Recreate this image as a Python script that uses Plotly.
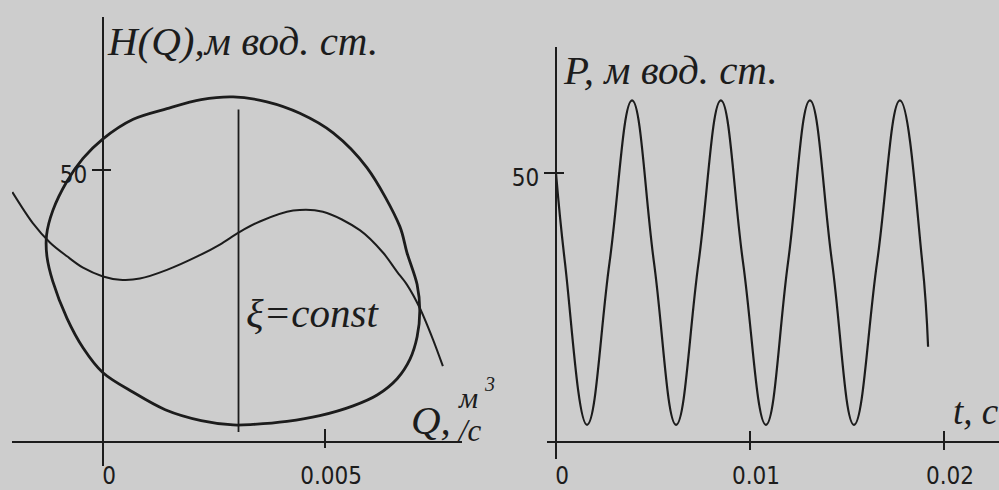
import plotly.graph_objects as go

# ---- Left panel: H(Q) loop, pump characteristic and the xi = const line ----
loop_q = [0.0, 0.00068, 0.00144, 0.00221, 0.00293, 0.00369, 0.00443, 0.00518,
          0.00594, 0.00668, 0.00684, 0.00707, 0.00713, 0.00707, 0.00691,
          0.00662, 0.00617, 0.00563, 0.00488, 0.00414, 0.00338, 0.00293,
          0.00221, 0.00140, 0.00068, 0.0, -0.00045, -0.00081, -0.00113,
          -0.00126, -0.00127, -0.00113, -0.00081, -0.00045, 0.0]
loop_h = [55.7, 59.3, 61.25, 62.9, 63.4, 62.5, 60.4, 56.8,
          50.4, 39.6, 34.8, 28.9, 24.1, 19.3, 15.2,
          11.6, 8.6, 6.6, 4.8, 3.75, 3.2, 3.1,
          3.9, 5.9, 9.1, 12.7, 17.3, 22.7, 29.5,
          34.0, 38.0, 42.5, 47.9, 52.1, 55.7]

pump_q = [-0.00204, -0.00158, -0.00119, -0.00081, -0.00045, 0.0, 0.00038,
          0.00083, 0.00144, 0.00218, 0.00263, 0.00308, 0.00353, 0.00428,
          0.00495, 0.00578, 0.0063, 0.00662, 0.00684, 0.00713, 0.00743,
          0.00765]
pump_h = [45.9, 40.2, 36.6, 34.1, 32.0, 30.4, 29.8,
          30.0, 31.6, 34.3, 36.25, 38.6, 40.5, 42.5,
          42.3, 38.9, 34.8, 31.25, 28.9, 24.6, 18.75,
          13.9]

xi_q = [0.00305, 0.00305]
xi_h = [1.8, 61.1]

q_ticks = [0.0, 0.005]
q_ticktext = ["0", "0.005"]
h_ticks = [50]

# ---- Right panel: pressure oscillation P(t) ----
t_vals = [0.0, 0.00046, 0.0016, 0.00276, 0.00392, 0.00505, 0.00619, 0.00735,
          0.0085, 0.00964, 0.01082, 0.01196, 0.01309, 0.01423, 0.01536,
          0.01655, 0.01773, 0.01888, 0.01918]
p_vals = [50.0, 33.4, 3.2, 33.4, 63.5, 33.4, 3.2, 33.4,
          63.5, 33.4, 3.2, 33.4, 63.5, 33.4, 3.2,
          33.4, 63.5, 33.4, 17.7]

t_ticks = [0.0, 0.01, 0.02]
t_ticktext = ["0", "0.01", "0.02"]
p_ticks = [50]

W, H = 999, 490
INK = "#1c1c1c"
BG = "#cdcdcd"


def fx(px):
    return px / W


def fy(py):
    return 1 - py / H


fig = go.Figure()
fig.add_trace(go.Scatter(x=loop_q, y=loop_h, mode="lines", xaxis="x", yaxis="y",
                         line=dict(color=INK, width=2.8, shape="spline", smoothing=0.9)))
fig.add_trace(go.Scatter(x=pump_q, y=pump_h, mode="lines", xaxis="x", yaxis="y",
                         line=dict(color=INK, width=2.0, shape="spline", smoothing=0.9)))
fig.add_trace(go.Scatter(x=xi_q, y=xi_h, mode="lines", xaxis="x", yaxis="y",
                         line=dict(color=INK, width=1.8)))
fig.add_trace(go.Scatter(x=t_vals, y=p_vals, mode="lines", xaxis="x2", yaxis="y2",
                         line=dict(color=INK, width=2.2, shape="spline", smoothing=1.2)))

tick_font = dict(family="DejaVu Sans Condensed, Liberation Sans Narrow, Liberation Sans",
                 size=24, color=INK)
label_font = dict(family="Liberation Serif", size=41, color=INK, style="italic")

# Left panel axes: 0.005 m3/s = 222 px, 50 m = 280 px
common = dict(showgrid=False, zeroline=False, showline=True, linecolor=INK,
              linewidth=2, tickcolor=INK, tickfont=tick_font, tickwidth=2,
              fixedrange=True)
fig.update_layout(
    width=W, height=H,
    margin=dict(l=0, r=0, t=0, b=0),
    paper_bgcolor=BG, plot_bgcolor=BG,
    showlegend=False,
    xaxis=dict(domain=[fx(12), fx(462)], range=[-0.002048, 0.00808],
               anchor="free", position=fy(455),
               tickmode="array", tickvals=q_ticks, ticktext=q_ticktext,
               ticks="outside", ticklen=5,
               minor=dict(tickmode="array", tickvals=q_ticks, ticks="inside",
                          ticklen=12, tickcolor=INK, tickwidth=2),
               ticklabelshift=6, ticklabelstandoff=7, **common),
    yaxis=dict(domain=[fy(480), fy(18)], range=[-4.5, 78.0],
               anchor="free", position=fx(103),
               tickmode="array", tickvals=h_ticks, ticktext=["50"],
               ticks="outside", ticklen=10,
               minor=dict(tickmode="array", tickvals=h_ticks, ticks="inside",
                          ticklen=7, tickcolor=INK, tickwidth=2),
               ticklabelshift=5, **common),
    xaxis2=dict(domain=[fx(547), 1.0], range=[-0.000464, 0.022835],
                anchor="free", position=fy(455),
                tickmode="array", tickvals=t_ticks, ticktext=t_ticktext,
                ticks="outside", ticklen=7,
                minor=dict(tickmode="array", tickvals=t_ticks, ticks="inside",
                           ticklen=10, tickcolor=INK, tickwidth=2),
                ticklabelshift=6, ticklabelstandoff=5, **common),
    yaxis2=dict(domain=[fy(472), fy(48)], range=[-3.07, 73.5],
                anchor="free", position=fx(556),
                tickmode="array", tickvals=p_ticks, ticktext=["50"],
                ticks="outside", ticklen=11,
                minor=dict(tickmode="array", tickvals=p_ticks, ticks="inside",
                           ticklen=7, tickcolor=INK, tickwidth=2),
                ticklabelshift=5, **common),
)


def label(text, x, y, xanchor="left", size=None, **kw):
    f = dict(label_font)
    if size:
        f["size"] = size
    fig.add_annotation(text=text, x=fx(x), y=fy(y), xref="paper", yref="paper",
                       xanchor=xanchor, yanchor="middle", showarrow=False,
                       font=f, **kw)


label("H(Q),м вод. ст.", 105, 42)
label("P, м вод. ст.", 561, 72)
label("ξ=const", 244, 322)
label("Q,", 409, 432)
label("м", 456, 409, size=30)
label("3", 489, 395, xanchor="center", size=20)
label("/с", 455, 443, size=31)
label("t, с", 951, 424, size=37)

fig.write_html("out.html")
